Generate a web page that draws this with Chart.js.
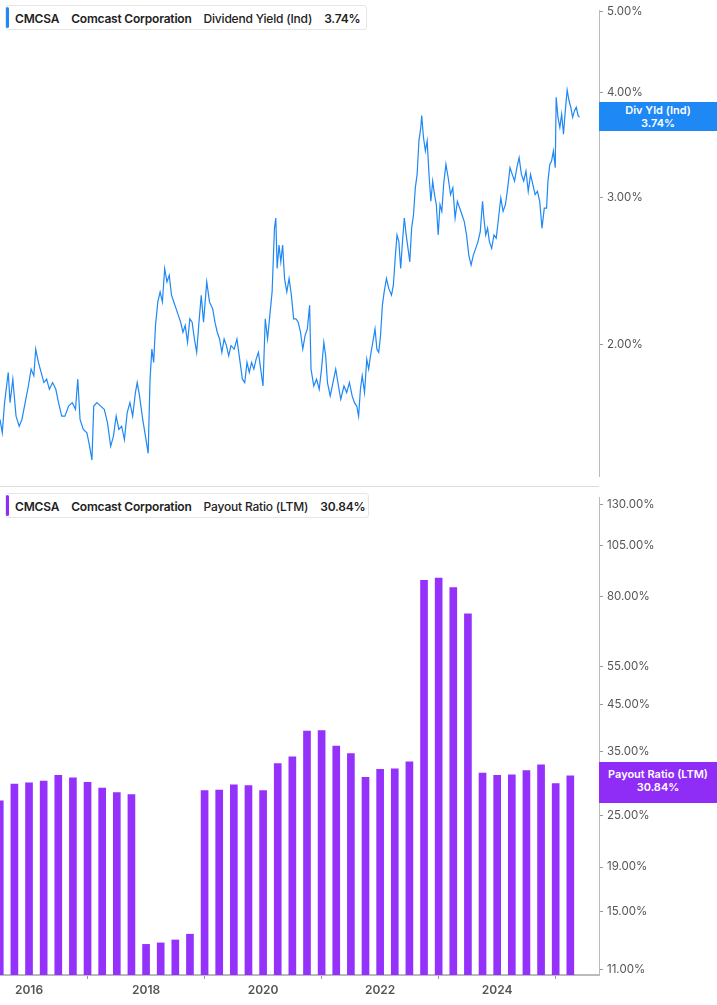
<!DOCTYPE html>
<html><head><meta charset="utf-8">
<script src="https://cdn.jsdelivr.net/npm/chart.js@4"></script>
<style>
body{margin:0;width:717px;height:1005px;background:#fff;position:relative;overflow:hidden;font-family:Inter,"Noto Sans",sans-serif}
canvas{position:absolute;left:0}
.leg{position:absolute;left:5px;height:25px;background:#fff;border:1px solid #e6e6e6;border-radius:3px;font-size:12px;font-weight:600;color:#222;line-height:25px;padding-left:9px;white-space:nowrap;box-sizing:border-box;letter-spacing:-0.2px}
.leg:before{content:"";position:absolute;left:0;top:1px;bottom:1px;width:3px;border-radius:2px;background:var(--c)}
.leg span{margin-right:12px}
.tag{position:absolute;left:599px;width:118px;color:#fff;font-size:11px;font-weight:600;text-align:center;line-height:13px;padding-top:2px;box-sizing:border-box}
.sep{position:absolute;left:0;width:599px;top:486px;height:1px;background:#ddd}
</style></head><body>
<canvas id="c1"></canvas>
<canvas id="c2"></canvas>
<div class="sep"></div>
<div class="leg" style="top:5px;width:362px;--c:#1e88f5"><span>CMCSA</span><span>Comcast Corporation</span><span style="font-weight:500">Dividend Yield (Ind)</span><span>3.74%</span></div>
<div class="leg" style="top:493px;width:364px;--c:#8f2cf5"><span>CMCSA</span><span>Comcast Corporation</span><span style="font-weight:500">Payout Ratio (LTM)</span><span>30.84%</span></div>
<div class="tag" style="top:102px;height:29px;background:#1e88f5">Div Yld (Ind)<br>3.74%</div>
<div class="tag" style="top:762px;height:41px;background:#8f2cf5;padding-top:6px">Payout Ratio (LTM)<br>30.84%</div>
<script>
const yieldDates=[2015.504,2015.543,2015.582,2015.645,2015.676,2015.723,2015.778,2015.832,2015.879,2015.934,2015.989,2016.035,2016.082,2016.114,2016.161,2016.207,2016.254,2016.301,2016.348,2016.403,2016.458,2016.504,2016.559,2016.614,2016.676,2016.739,2016.794,2016.833,2016.872,2016.927,2016.989,2017.036,2017.075,2017.106,2017.161,2017.224,2017.286,2017.341,2017.395,2017.442,2017.489,2017.536,2017.583,2017.630,2017.677,2017.724,2017.771,2017.818,2017.849,2017.888,2017.943,2017.990,2018.036,2018.068,2018.099,2018.130,2018.161,2018.201,2018.240,2018.279,2018.318,2018.357,2018.396,2018.435,2018.474,2018.513,2018.552,2018.591,2018.630,2018.669,2018.709,2018.748,2018.787,2018.826,2018.865,2018.904,2018.943,2018.982,2019.037,2019.084,2019.138,2019.177,2019.217,2019.256,2019.295,2019.334,2019.373,2019.412,2019.451,2019.506,2019.553,2019.607,2019.646,2019.686,2019.725,2019.764,2019.803,2019.842,2019.881,2019.920,2019.959,2019.998,2020.037,2020.076,2020.115,2020.154,2020.194,2020.217,2020.240,2020.272,2020.303,2020.334,2020.366,2020.405,2020.444,2020.483,2020.522,2020.561,2020.600,2020.639,2020.678,2020.717,2020.756,2020.795,2020.819,2020.866,2020.913,2020.959,2020.998,2021.038,2021.069,2021.100,2021.147,2021.194,2021.241,2021.288,2021.327,2021.382,2021.428,2021.475,2021.522,2021.561,2021.600,2021.632,2021.663,2021.694,2021.733,2021.772,2021.804,2021.835,2021.874,2021.913,2021.944,2021.976,2022.007,2022.038,2022.069,2022.108,2022.148,2022.194,2022.226,2022.257,2022.288,2022.320,2022.351,2022.382,2022.413,2022.445,2022.476,2022.507,2022.538,2022.570,2022.601,2022.632,2022.663,2022.695,2022.710,2022.741,2022.773,2022.804,2022.835,2022.867,2022.898,2022.929,2022.960,2022.992,2023.023,2023.054,2023.085,2023.124,2023.163,2023.203,2023.242,2023.281,2023.320,2023.359,2023.398,2023.437,2023.476,2023.515,2023.554,2023.593,2023.633,2023.672,2023.711,2023.750,2023.773,2023.804,2023.836,2023.867,2023.906,2023.945,2023.984,2024.023,2024.062,2024.101,2024.141,2024.180,2024.219,2024.258,2024.297,2024.336,2024.375,2024.414,2024.453,2024.492,2024.531,2024.570,2024.610,2024.649,2024.688,2024.727,2024.766,2024.805,2024.844,2024.868,2024.899,2024.930,2024.961,2024.992,2025.008,2025.039,2025.071,2025.102,2025.133,2025.164,2025.196,2025.227,2025.258,2025.289,2025.321,2025.352,2025.383,2025.407];
const yieldValues=[1.625,1.566,1.702,1.850,1.702,1.816,1.640,1.595,1.625,1.702,1.782,1.867,1.833,1.973,1.902,1.850,1.799,1.816,1.766,1.799,1.766,1.702,1.640,1.640,1.686,1.702,1.671,1.816,1.625,1.581,1.566,1.509,1.453,1.686,1.702,1.686,1.671,1.610,1.509,1.551,1.640,1.581,1.595,1.537,1.655,1.702,1.640,1.750,1.799,1.734,1.625,1.551,1.480,1.816,1.973,1.902,2.106,2.247,2.310,2.247,2.464,2.375,2.419,2.289,2.247,2.206,2.165,2.125,2.067,2.106,2.010,2.145,2.125,2.029,1.955,2.125,2.289,2.125,2.375,2.247,2.206,2.125,2.067,2.029,1.955,2.029,1.992,1.937,1.992,1.973,2.029,1.902,1.816,1.799,1.902,1.850,1.902,1.867,1.919,1.955,1.867,1.782,2.145,2.029,2.165,2.310,2.754,2.832,2.464,2.629,2.510,2.629,2.397,2.310,2.397,2.289,2.145,2.145,2.125,2.067,1.973,2.048,2.086,2.226,1.867,1.782,1.816,1.766,1.867,2.010,1.937,1.799,1.734,1.799,1.867,1.782,1.718,1.782,1.750,1.799,1.734,1.702,1.686,1.640,1.766,1.833,1.750,1.919,1.867,1.937,2.010,2.086,1.973,1.955,2.048,2.226,2.310,2.397,2.331,2.289,2.353,2.534,2.703,2.654,2.464,2.654,2.832,2.703,2.605,2.510,2.754,2.858,3.078,3.194,3.504,3.636,3.756,3.536,3.408,3.504,3.194,2.966,3.136,3.021,2.938,2.703,2.938,2.884,3.106,3.284,3.165,3.021,3.078,2.832,2.966,2.911,2.858,2.806,2.703,2.557,2.487,2.557,2.605,2.654,2.728,2.966,2.832,2.703,2.754,2.654,2.605,2.703,2.679,2.832,2.993,2.884,2.938,3.078,3.254,3.194,3.136,3.254,3.346,3.194,3.136,3.224,3.049,3.194,3.106,3.021,3.049,2.966,2.754,2.911,2.911,3.136,3.284,3.315,3.408,3.254,3.952,3.739,3.636,3.773,3.569,3.808,4.03,3.916,3.844,3.739,3.808,3.844,3.756,3.74];
const payoutDates=[2015.5,2015.75,2016.0,2016.25,2016.5,2016.75,2017.0,2017.25,2017.5,2017.75,2018.0,2018.25,2018.5,2018.75,2019.0,2019.25,2019.5,2019.75,2020.0,2020.25,2020.5,2020.75,2021.0,2021.25,2021.5,2021.75,2022.0,2022.25,2022.5,2022.75,2023.0,2023.25,2023.5,2023.75,2024.0,2024.25,2024.5,2024.75,2025.0,2025.25];
const payoutValues=[27.0,29.5,29.7,30.0,30.9,30.5,29.8,28.9,28.2,27.9,12.6,12.7,12.9,13.3,28.5,28.6,29.4,29.3,28.5,32.9,34.1,39.1,39.2,36.1,34.7,30.6,31.9,32.0,33.2,87.1,88.1,83.8,72.9,31.3,30.9,31.0,31.7,32.7,29.6,30.84];
const yieldTicks=[2,3,4,5];
const payoutTicks=[11,15,19,25,35,45,55,80,105,130];
const yearTicks=[2016,2018,2020,2022,2024];
const X0=2015.504,X1=2025.74;

const font={family:'Inter',size:11.5};
function yAxis(min,max,ticks,w){return{type:'logarithmic',position:'right',min,max,
  afterBuildTicks:a=>{a.ticks=ticks.map(v=>({value:v}))},
  afterFit:a=>{a.width=w},
  grid:{drawOnChartArea:false,tickLength:4,color:'#999'},border:{color:'#bbb'},
  ticks:{padding:4,color:'#555',font,callback:v=>v.toFixed(2)+'%'}}}
function setup(id,top,h){const c=document.getElementById(id);c.style.top=top+'px';c.style.width='717px';c.style.height=h+'px';return c}

new Chart(setup('c1',0,487),{type:'line',
 data:{datasets:[{data:yieldDates.map((d,i)=>({x:d,y:yieldValues[i]})),borderColor:'#1e88f5',borderWidth:1.2,pointRadius:0,tension:0}]},
 options:{responsive:false,animation:false,devicePixelRatio:1,layout:{padding:{top:0,bottom:2,left:0,right:0}},
  plugins:{legend:{display:false},tooltip:{enabled:false}},
  scales:{x:{type:'linear',display:false,min:X0,max:X1},y:yAxis(1.39,5.014,yieldTicks,118)}}});

new Chart(setup('c2',487,518),{type:'bar',
 data:{datasets:[{data:payoutDates.map((d,i)=>({x:d,y:payoutValues[i]})),backgroundColor:'#9431fb',barThickness:7}]},
 options:{responsive:false,animation:false,devicePixelRatio:1,layout:{padding:{top:3,left:0,right:0,bottom:0}},
  plugins:{legend:{display:false},tooltip:{enabled:false}},
  scales:{x:{type:'linear',min:X0,max:X1,offset:false,
    afterBuildTicks:a=>{a.ticks=yearTicks.map(v=>({value:v}))},
    afterFit:a=>{a.height=30},
    grid:{drawOnChartArea:false,tickLength:4,color:'#999'},border:{color:'#bbb',width:2},
    ticks:{color:'#555',padding:4,font:{family:'Inter',size:12,weight:'600'},callback:v=>String(v)}},
   y:yAxis(10.71,134.9,payoutTicks,118)}}});
</script>
</body></html>
